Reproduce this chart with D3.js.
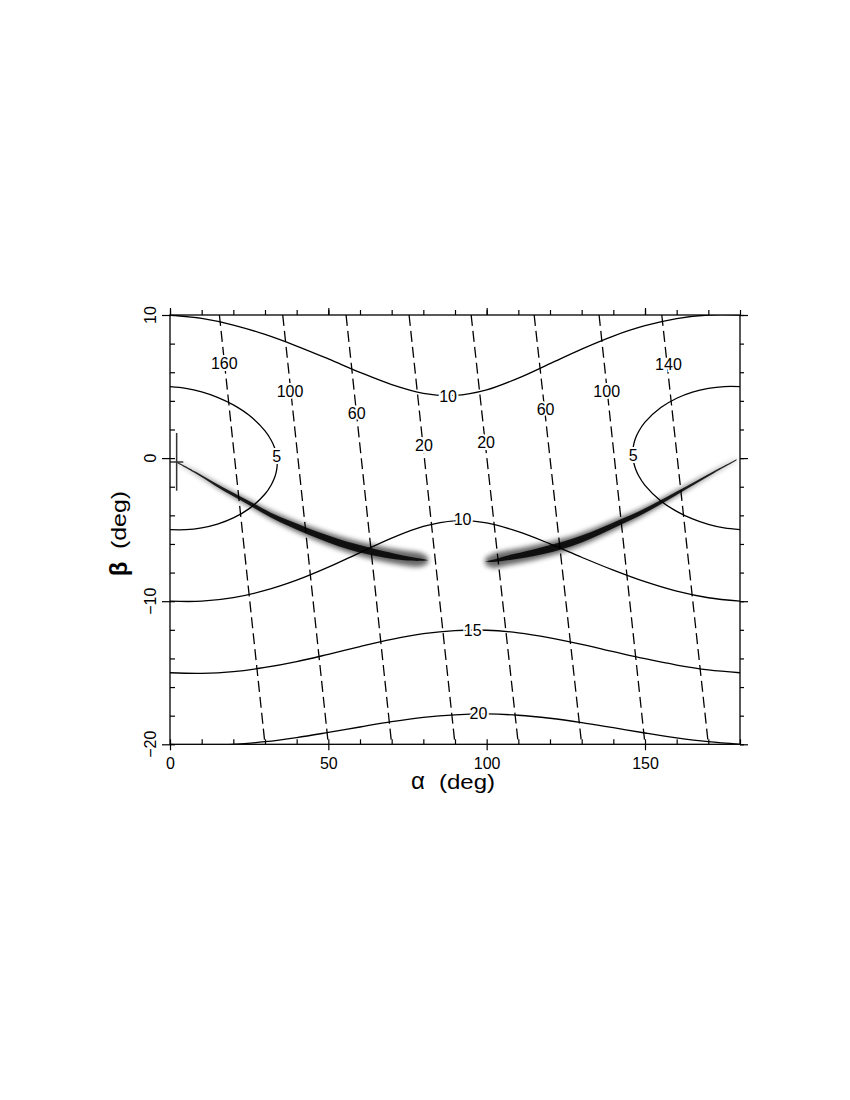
<!DOCTYPE html>
<html><head><meta charset="utf-8">
<script src="https://cdn.jsdelivr.net/npm/d3@7"></script>
<style>body{margin:0;background:#fff}</style>
</head><body><svg id="c" width="850" height="1100"></svg>
<script>
// ---------- data ----------
const alphaGrid = [0,10,20,30,40,50,60,70,80,90,100,110,120,130,140,150,160,170,180];
const rho10Upper = [10,9.76,9.30,8.64,7.83,6.93,5.99,5.14,4.53,4.38,4.77,5.59,6.60,7.62,8.53,9.25,9.75,10.0,10];
const rho10Lower = [-10,-10.0,-9.75,-9.25,-8.53,-7.62,-6.60,-5.59,-4.77,-4.38,-4.53,-5.14,-5.99,-6.93,-7.83,-8.64,-9.30,-9.76,-10];
const rho15Lower = [-15,-15.04,-14.92,-14.63,-14.22,-13.71,-13.17,-12.67,-12.27,-12.05,-12.03,-12.21,-12.56,-13.01,-13.52,-14.02,-14.46,-14.80,-15];
const rho20Lower = [-20,-20.06,-20.0,-19.82,-19.53,-19.17,-18.79,-18.42,-18.12,-17.94,-17.88,-17.97,-18.18,-18.48,-18.84,-19.21,-19.55,-19.82,-20];

const loop5LeftAlpha = [0,5,10,15,20,25,30,32,33,33.5,33.8,33.86,33.8,33.5,33,32,30,25,20,15,10,5,0];
const loop5LeftBeta  = [5,4.88,4.63,4.25,3.72,2.99,1.90,1.23,0.74,0.36,-0.02,-0.33,-0.63,-1.01,-1.38,-1.86,-2.51,-3.53,-4.18,-4.61,-4.87,-5.0,-5];
const loop5RightAlpha = [180,175,170,165,160,155,150,148,147,146.5,146.2,146.14,146.2,146.5,147,148,150,155,160,165,170,175,180];
const loop5RightBeta  = [-5,-4.88,-4.63,-4.25,-3.72,-2.99,-1.90,-1.23,-0.74,-0.36,0.02,0.33,0.63,1.01,1.38,1.86,2.51,3.53,4.18,4.61,4.87,5.0,5];

const dashTopAlpha    = [15.6,35.6,55.6,75.5,95.1,115.0,135.5,155.3];
const dashBottomAlpha = [30,50,70,90,110,130,150,170];
const dashLabels      = ["160","100","60","20","20","60","100","140"];
const dashLabelAlpha  = [17.15,37.9,58.95,80.2,99.8,118.6,137.9,157.4];
const dashLabelBeta   = [6.58,4.65,3.14,0.88,1.12,3.37,4.65,6.51];

const contourLabels     = ["10","10","15","20","5","5"];
const contourLabelAlpha = [87.8,92.4,95.6,97.4,33.7,146.3];
const contourLabelBeta  = [4.28,-4.26,-12.05,-17.85,0.1,0.16];

const bandLeftAlpha = [2.1,8,14,20,26,32,38,44,50,56,62,68,74,79,81.5];
const bandLeftBeta  = [-0.28,-1.0,-1.8,-2.55,-3.27,-4.0,-4.6,-5.15,-5.65,-6.1,-6.45,-6.75,-6.98,-7.1,-7.13];
const bandLeftWide  = [0.03,0.07,0.12,0.17,0.22,0.27,0.32,0.36,0.40,0.43,0.45,0.47,0.47,0.44,0.2];
const bandLeftCore  = [0.05,0.065,0.09,0.12,0.145,0.17,0.2,0.22,0.24,0.25,0.25,0.22,0.16,0.08,0.0];
const bandRightAlpha = [99.5,102,106,112,118,124,130,136,142,148,154,160,166,172,178.9];
const bandRightBeta  = [-7.22,-7.18,-7.0,-6.75,-6.45,-6.1,-5.65,-5.1,-4.5,-3.9,-3.2,-2.45,-1.7,-0.95,-0.12];
const bandRightWide  = [0.2,0.44,0.47,0.47,0.45,0.43,0.40,0.36,0.32,0.27,0.22,0.17,0.12,0.07,0.03];
const bandRightCore  = [0.0,0.08,0.16,0.22,0.25,0.25,0.24,0.22,0.2,0.17,0.145,0.12,0.09,0.065,0.045];

const obsAlpha = 2.1, obsAlphaLo = 0, obsAlphaHi = 4.2;
const obsBeta = -0.28, obsBetaLo = -2.28, obsBetaHi = 1.75;

const xMajor = [0,50,100,150];
const xMinor = d3.range(0,181,10);
const yMajor = [-20,-10,0,10];
const yMinor = d3.range(-20,11,2);
const yTickText = {"-20":"\u221220","-10":"\u221210","0":"0","10":"10"};

// ---------- drawing ----------
const svg = d3.select("#c");
svg.append("rect").attr("width",850).attr("height",1100).attr("fill","#fff");
const x = d3.scaleLinear().domain([0,180]).range([170,740]);
const y = d3.scaleLinear().domain([-20,10]).range([744.3,315]);
const font = "'Liberation Sans', Arial, Helvetica, sans-serif";

const defs = svg.append("defs");
defs.append("clipPath").attr("id","clip").append("rect")
  .attr("x",170).attr("y",315).attr("width",570).attr("height",429.3);
function blur(id, s){
  defs.append("filter").attr("id",id).attr("filterUnits","userSpaceOnUse")
    .attr("x",0).attr("y",0).attr("width",850).attr("height",1100)
    .append("feGaussianBlur").attr("stdDeviation",s);
}
blur("bw",2.8); blur("bc",0.7);

const plot = svg.append("g").attr("clip-path","url(#clip)");

// bands
function band(al, be, wide, core){
  const pts = al.map((a,i)=>({a, b:be[i], w:wide[i], c:core[i]}));
  const mk = f => d3.area().x(d=>x(d.a)).y0(d=>y(d.b - f(d))).y1(d=>y(d.b + f(d))).curve(d3.curveCatmullRom);
  plot.append("path").attr("d",mk(d=>d.w*1.1)(pts)).attr("fill","#000").attr("fill-opacity",0.6).attr("filter","url(#bw)");
  plot.append("path").attr("d",mk(d=>d.c)(pts)).attr("fill","#000").attr("fill-opacity",0.85).attr("filter","url(#bc)");
}
band(bandLeftAlpha, bandLeftBeta, bandLeftWide, bandLeftCore);
band(bandRightAlpha, bandRightBeta, bandRightWide, bandRightCore);

const line = d3.line().x(d=>x(d[0])).y(d=>y(d[1])).curve(d3.curveCatmullRom.alpha(0.5));
const solid = (al, be) => plot.append("path").attr("d", line(al.map((a,i)=>[a,be[i]])))
  .attr("fill","none").attr("stroke","#000").attr("stroke-width",1.3);
solid(alphaGrid, rho10Upper);
solid(alphaGrid, rho10Lower);
solid(alphaGrid, rho15Lower);
solid(alphaGrid, rho20Lower);
solid(loop5LeftAlpha, loop5LeftBeta);
solid(loop5RightAlpha, loop5RightBeta);

// dashed lines
dashTopAlpha.forEach((a,i)=>{
  plot.append("path").attr("d", d3.line().x(d=>x(d[0])).y(d=>y(d[1]))([[a,10],[dashBottomAlpha[i],-20]]))
    .attr("fill","none").attr("stroke","#000").attr("stroke-width",1.3).attr("stroke-dasharray","11,5");
});

// observed point with error bars
plot.append("line").attr("x1",x(obsAlpha)).attr("x2",x(obsAlpha)).attr("y1",y(obsBetaHi)).attr("y2",y(obsBetaLo))
  .attr("stroke","#333").attr("stroke-width",1.5);
plot.append("line").attr("x1",x(obsAlphaLo)).attr("x2",x(obsAlphaHi)).attr("y1",y(obsBeta)).attr("y2",y(obsBeta))
  .attr("stroke","#333").attr("stroke-width",1.5);

// labels with white halo
function labels(txt, al, be){
  svg.append("g").selectAll("text").data(txt).join("text")
    .attr("x",(d,i)=>x(al[i])).attr("y",(d,i)=>y(be[i]))
    .attr("text-anchor","middle").attr("dominant-baseline","central")
    .attr("font-family",font).attr("font-size",16)
    .attr("stroke","#fff").attr("stroke-width",4).attr("paint-order","stroke")
    .attr("fill","#000").text(d=>d);
}
labels(dashLabels, dashLabelAlpha, dashLabelBeta);
labels(contourLabels, contourLabelAlpha, contourLabelBeta);

// frame
svg.append("rect").attr("x",170).attr("y",315).attr("width",570).attr("height",429.3)
  .attr("fill","none").attr("stroke","#000").attr("stroke-width",1.3);

// axes
function ax(gen, tx, ty){
  const g = svg.append("g").attr("transform",`translate(${tx},${ty})`).call(gen);
  g.select(".domain").remove();
  g.selectAll("line").attr("stroke-width",1.2);
  return g;
}
ax(d3.axisBottom(x).tickValues(xMinor).tickSize(-5).tickFormat(""),0,744.3);
const xb = ax(d3.axisBottom(x).tickValues(xMajor).tickSize(6).tickPadding(7),0,744.3);
xb.selectAll("text").attr("font-family",font).attr("font-size",16).attr("fill","#000");
ax(d3.axisTop(x).tickValues(xMinor).tickSize(5).tickFormat(""),0,315);
ax(d3.axisTop(x).tickValues(xMajor).tickSize(7).tickFormat(""),0,315);
ax(d3.axisLeft(y).tickValues(yMinor).tickSize(-5).tickFormat(""),170,0);
ax(d3.axisLeft(y).tickValues(yMajor).tickSize(8).tickFormat(""),170,0);
ax(d3.axisRight(y).tickValues(yMinor).tickSize(4).tickFormat(""),740,0);
ax(d3.axisRight(y).tickValues(yMajor).tickSize(8).tickFormat(""),740,0);

// rotated y tick labels
svg.append("g").selectAll("text").data(yMajor).join("text")
  .attr("transform",d=>`translate(155.5,${y(d)}) rotate(-90)`)
  .attr("text-anchor","middle").attr("font-family",font).attr("font-size",16).attr("fill","#000")
  .text(d=>yTickText[d]);

// axis titles
svg.append("text").attr("x",418).attr("y",789).attr("text-anchor","middle")
  .attr("font-family",font).attr("font-size",24).text("\u03b1");
svg.append("text").attr("x",439).attr("y",789).attr("text-anchor","start")
  .attr("font-family",font).attr("font-size",21)
  .attr("textLength",56).attr("lengthAdjust","spacingAndGlyphs").text("(deg)");
svg.append("text").attr("transform","translate(127,569) rotate(-90)").attr("text-anchor","middle")
  .attr("font-family",font).attr("font-size",24).attr("font-weight","bold").text("\u03b2");
svg.append("text").attr("transform","translate(126,549) rotate(-90)").attr("text-anchor","start")
  .attr("font-family",font).attr("font-size",21)
  .attr("textLength",58).attr("lengthAdjust","spacingAndGlyphs").text("(deg)");
</script>
</body></html>
